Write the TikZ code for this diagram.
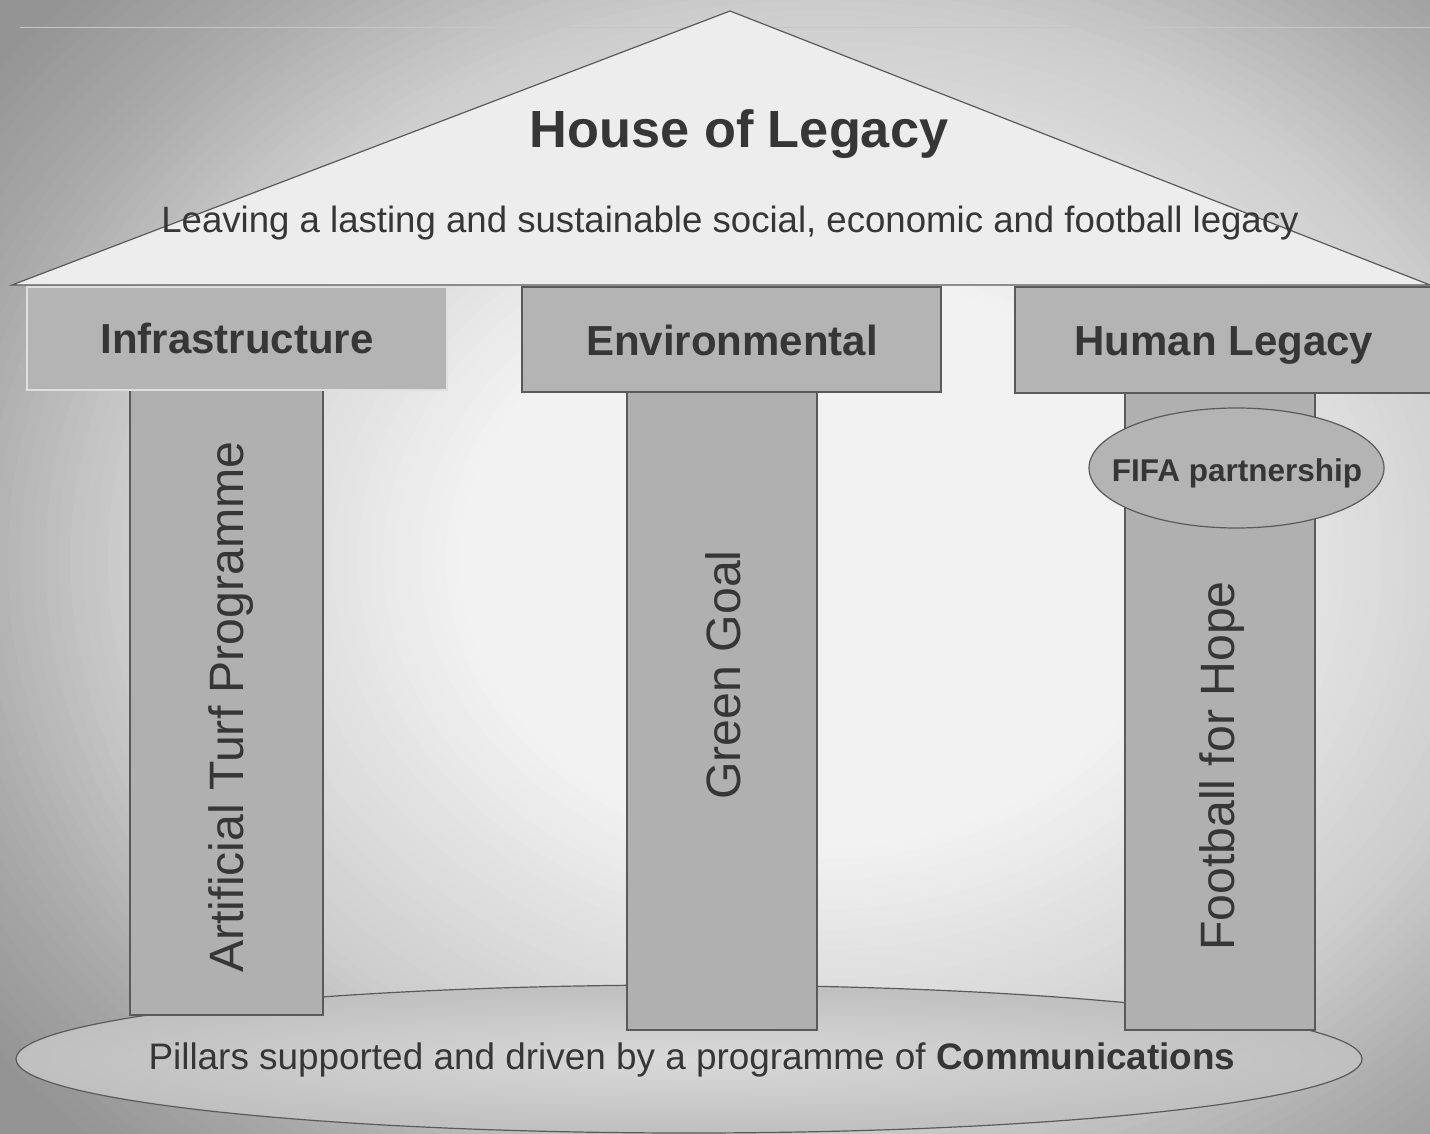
\documentclass[tikz,border=0pt]{standalone}
\usepackage{fontspec}
\setmainfont{Liberation Sans}
\usetikzlibrary{shapes.geometric}
\definecolor{txt}{HTML}{363636}
\definecolor{edge}{HTML}{5A5A5A}
\definecolor{boxfill}{HTML}{B4B4B4}
\definecolor{pillfill}{HTML}{B0B0B0}
\definecolor{rooffill}{HTML}{EDEDED}
\definecolor{bgout}{gray}{0.58}
\begin{document}
\begin{tikzpicture}[x=1pt,y=-1pt,
  every node/.style={text=txt, inner sep=0pt},
  headbox/.style={draw=edge, line width=1.2pt, fill=boxfill},
  headtext/.style={anchor=base, font=\fontsize{42}{46}\selectfont\bfseries},
  pillar/.style={draw=edge, line width=1.2pt, fill=pillfill},
  pillartext/.style={rotate=90, font=\fontsize{48.2}{52}\selectfont},
]
\useasboundingbox (0,0) rectangle (1430,1134);
% background: radial gradient built from concentric ellipses
\fill[bgout] (0,0) rectangle (1430,1134);
\begin{scope}
\clip (0,0) rectangle (1430,1134);
\foreach \t in {1.1,1.0875,...,0.04} {
  \pgfmathsetmacro\g{\t<0.36 ? 0.95 : (\t<0.7 ? 0.95-(\t-0.36)/0.34*0.15 : (\t<0.88 ? 0.8-(\t-0.7)/0.18*0.135 : max(0.58,0.665-(\t-0.88)/0.12*0.065)))}
  \definecolor{bgtmp}{gray}{\g}
  \fill[bgtmp] (820,560) ellipse [x radius=1000*\t, y radius=800*\t];
}
\end{scope}
% faint top line
\draw[gray!45, line width=0.8pt] (20,27) -- (1430,27);
% roof
\coordinate (apex) at (730,11);
\coordinate (roofL) at (12,285);
\coordinate (roofR) at (1430,285);
\draw[edge, line width=1.2pt, fill=rooffill] (roofL) -- (apex) -- (roofR) -- cycle;
% base ellipse
\node[ellipse, draw=edge, line width=1.2pt, inner color=gray!30, outer color=gray!50,
      minimum width=1346, minimum height=148] (base) at (689,1059) {};
% pillars
\node[pillar, minimum width=193, minimum height=625] (p1) at (226.5,702.5) {};
\node[pillar, minimum width=190, minimum height=638] (p2) at (722,711) {};
\node[pillar, minimum width=190, minimum height=637] (p3) at (1220,711.5) {};
% header boxes
\node[headbox, draw=white!75!gray, minimum width=420, minimum height=103] (infra) at (237,338.5) {};
\node[headbox, minimum width=419, minimum height=105] (env) at (731.5,339.5) {};
\node[headbox, minimum width=420, minimum height=106] (human) at (1225,340) {};
\node[headtext] (infratext) at (237,353) {Infrastructure};
\node[headtext] (envtext) at (732,355) {Environmental};
\node[headtext] (humantext) at (1224,355) {Human Legacy};
% FIFA ellipse
\node[ellipse, draw=edge, line width=1.2pt, fill=boxfill, minimum width=295, minimum height=120] (fifashape) at (1236.5,468) {};
\node[anchor=base, font=\fontsize{31.5}{34}\selectfont\bfseries] (fifa) at (1237,481) {FIFA partnership};
% roof texts
\node[anchor=base, font=\fontsize{52.3}{56}\selectfont\bfseries] (title) at (739,148) {House of Legacy};
\node[anchor=base, font=\fontsize{36.6}{40}\selectfont] (subtitle) at (730,233) {Leaving a lasting and sustainable social, economic and football legacy};
% pillar texts
\node[pillartext] (atp) at (231,707) {Artificial Turf Programme};
\node[pillartext] (gg) at (723,675) {Green Goal};
\node[pillartext] (ffh) at (1222,766) {Football for Hope};
% base text
\node[anchor=base, font=\fontsize{36.9}{40}\selectfont] (basetext) at (692,1069) {Pillars supported and driven by a programme of \textbf{Communications}};
\end{tikzpicture}
\end{document}
